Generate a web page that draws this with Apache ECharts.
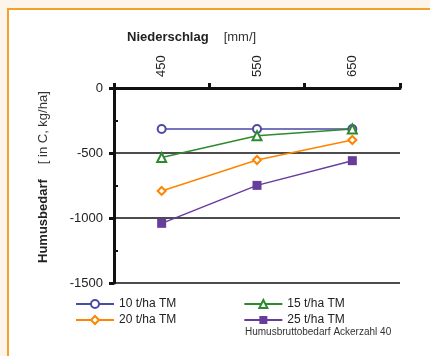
<!DOCTYPE html>
<html>
<head>
<meta charset="utf-8">
<script src="https://cdn.jsdelivr.net/npm/echarts@6/dist/echarts.min.js"></script>
<style>
html,body{margin:0;padding:0;background:#fdf5e9;}
#c{width:430px;height:356px;}
</style>
</head>
<body>
<div id="c"></div>
<script>
const categories = ['450', '550', '650'];
const s10 = [-315, -315, -315];
const s15 = [-535, -367, -315];
const s20 = [-792, -554, -400];
const s25 = [-1041, -749, -559];
const seriesNames = ['10 t/ha TM', '15 t/ha TM', '20 t/ha TM', '25 t/ha TM'];
const yTicks = [0, -500, -1000, -1500];

const chart = echarts.init(document.getElementById('c'), null, {renderer: 'canvas'});
const font = 'Liberation Sans, Arial, sans-serif';
const legendCommon = {
  itemWidth: 38, itemHeight: 10, itemGap: 67, left: 75, padding: 0,
  textStyle: {fontFamily: font, fontSize: 12, color: '#222', lineHeight: 14}
};
chart.setOption({
  backgroundColor: 'transparent',
  animation: false,
  graphic: [
    {type: 'rect', z: -10, shape: {x: 8, y: 9, width: 440, height: 360},
     style: {fill: '#ffffff', stroke: '#f2a12a', lineWidth: 2}},
    {type: 'text', left: 127, top: 31, z: 10,
     style: {text: '{b|Niederschlag}{n|[mm/]}',
       rich: {b: {fontFamily: font, fontSize: 13, fontWeight: 'bold', fill: '#222', padding: [0, 15, 0, 0]},
              n: {fontFamily: font, fontSize: 13, fill: '#333'}}}},
    {type: 'text', x: 37, y: 263, rotation: Math.PI / 2, z: 10,
     style: {text: '{b|Humusbedarf}{n|[ in C, kg/ha]}',
       rich: {b: {fontFamily: font, fontSize: 13, fontWeight: 'bold', fill: '#222', padding: [0, 15, 0, 0]},
              n: {fontFamily: font, fontSize: 13, fill: '#333'}}}},
    {type: 'text', left: 245, top: 327, z: 10,
     style: {text: 'Humusbruttobedarf Ackerzahl 40', fontFamily: font, fontSize: 10, fill: '#333'}}
  ],
  legend: [
    Object.assign({}, legendCommon, {top: 297, data: [seriesNames[0], seriesNames[1]]}),
    Object.assign({}, legendCommon, {top: 313, data: [seriesNames[2], seriesNames[3]]})
  ],
  grid: {left: 114, right: 30, top: 88, bottom: 73, containLabel: false},
  xAxis: {
    type: 'category', position: 'top', data: categories, boundaryGap: true,
    axisLine: {show: true, lineStyle: {color: '#111', width: 3}},
    axisTick: {show: true, length: 5, lineStyle: {color: '#111', width: 3}},
    axisLabel: {rotate: 90, fontFamily: font, fontSize: 13, color: '#222', margin: 11},
    splitLine: {show: false}
  },
  yAxis: [{
    type: 'value', min: -1500, max: 0, interval: 500,
    axisLine: {show: true, lineStyle: {color: '#111', width: 3}},
    axisTick: {show: true, length: 5, lineStyle: {color: '#111', width: 3}},
    axisLabel: {fontFamily: font, fontSize: 13, color: '#222', margin: 11,
      formatter: v => yTicks.indexOf(v) >= 0 ? String(v) : ''},
    splitLine: {show: true, lineStyle: {color: '#111', width: 1.5}}
  }, {
    type: 'value', min: -1500, max: 0, interval: 500, position: 'left', offset: -4,
    axisLine: {show: false},
    axisTick: {show: false},
    minorTick: {show: true, splitNumber: 2, length: 3, lineStyle: {color: '#111', width: 2}},
    axisLabel: {show: false},
    splitLine: {show: false}
  }],
  series: [
    {name: seriesNames[0], type: 'line', data: s10, symbol: 'emptyCircle', symbolSize: 8,
     color: '#4b4aa6', lineStyle: {width: 1.5}, itemStyle: {borderWidth: 1.5}},
    {name: seriesNames[1], type: 'line', data: s15, symbol: 'emptyTriangle', symbolSize: 9,
     color: '#2e8a2e', lineStyle: {width: 1.5}, itemStyle: {borderWidth: 1.5}},
    {name: seriesNames[2], type: 'line', data: s20, symbol: 'emptyDiamond', symbolSize: 8,
     color: '#ff8400', lineStyle: {width: 1.5}, itemStyle: {borderWidth: 1.5}},
    {name: seriesNames[3], type: 'line', data: s25, symbol: 'rect', symbolSize: 9,
     color: '#673d9c', lineStyle: {width: 1.5}}
  ]
});
</script>
</body>
</html>
